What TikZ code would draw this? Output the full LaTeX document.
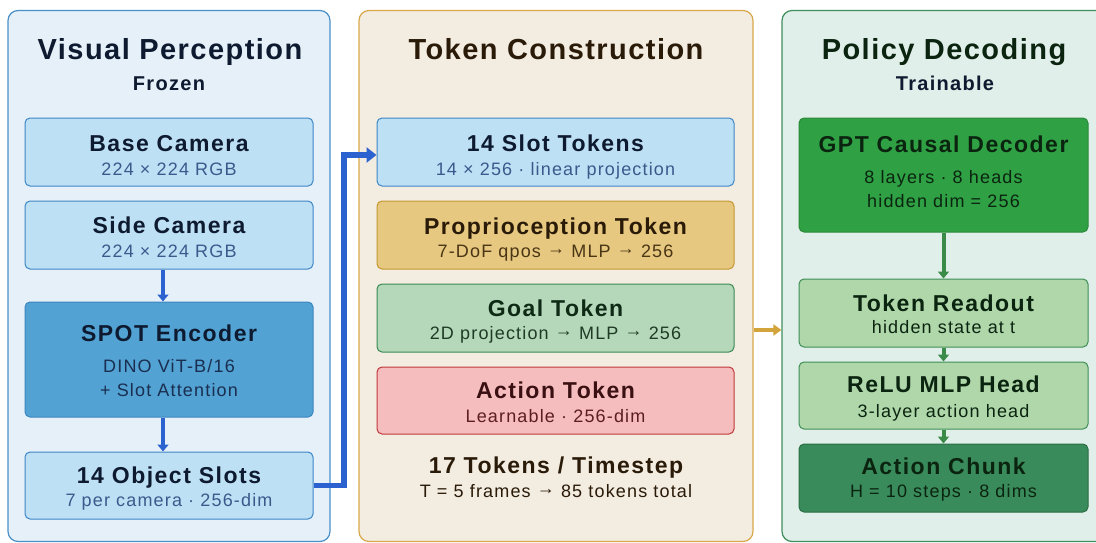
\documentclass[tikz,border=0pt]{standalone}
\usepackage{fontspec}
\setmainfont{Liberation Sans}
\newfontfamily\headfont[LetterSpace=5]{Liberation Sans}
\newfontfamily\labelfont[LetterSpace=6.5]{Liberation Sans}
\usetikzlibrary{arrows.meta}
% arrow glyph lifted to the middle of the lowercase letters
\newcommand\rarr{\raisebox{2.5pt}{→}}

% palette
\definecolor{inkNavy}{HTML}{0E1A2F}
\definecolor{inkSlate}{HTML}{3A5A8C}
\definecolor{inkSpot}{HTML}{1A2E50}
\definecolor{visFill}{HTML}{E5F0F9}
\definecolor{visLine}{HTML}{4A90C8}
\definecolor{camFill}{HTML}{BEE0F4}
\definecolor{camLine}{HTML}{3D86C6}
\definecolor{spotFill}{HTML}{52A2D3}
\definecolor{spotLine}{HTML}{3A85C0}
\definecolor{tokFill}{HTML}{F3ECE1}
\definecolor{tokLine}{HTML}{D8A84A}
\definecolor{propFill}{HTML}{E6C880}
\definecolor{propLine}{HTML}{C4982F}
\definecolor{inkBrown}{HTML}{2A1A08}
\definecolor{inkBrownSub}{HTML}{4A3515}
\definecolor{goalFill}{HTML}{B5D8BA}
\definecolor{goalLine}{HTML}{3A8A52}
\definecolor{inkGoal}{HTML}{0E2A15}
\definecolor{inkGoalSub}{HTML}{1F3B25}
\definecolor{actFill}{HTML}{F5BDBD}
\definecolor{actLine}{HTML}{C0393B}
\definecolor{inkAct}{HTML}{3A1012}
\definecolor{inkActSub}{HTML}{5C1E20}
\definecolor{polFill}{HTML}{E1EFEA}
\definecolor{polLine}{HTML}{3E8E5E}
\definecolor{gptFill}{HTML}{2FA043}
\definecolor{gptLine}{HTML}{2A8A3A}
\definecolor{headFill}{HTML}{AFD7AA}
\definecolor{headLine}{HTML}{3E8E55}
\definecolor{chunkFill}{HTML}{3A8B5B}
\definecolor{chunkLine}{HTML}{2A6E45}
\definecolor{inkGreen}{HTML}{0B2410}
\definecolor{linkBlue}{HTML}{2B62CF}
\definecolor{linkGreen}{HTML}{3A8A48}
\definecolor{linkGold}{HTML}{D4A43C}

\tikzset{
  panel/.style={draw, line width=1.2pt, rounded corners=10pt, inner sep=0pt},
  blk/.style={draw, line width=1pt, rounded corners=5pt, inner sep=0pt},
  ptitle/.style={font=\headfont\bfseries\fontsize{29}{31}\selectfont, anchor=base, inner sep=0pt},
  ptag/.style={font=\labelfont\bfseries\fontsize{20}{22}\selectfont, anchor=base, inner sep=0pt},
  bname/.style={font=\labelfont\bfseries\fontsize{23}{25}\selectfont, anchor=base, inner sep=0pt},
  bnote/.style={font=\labelfont\fontsize{18}{20}\selectfont, anchor=base, inner sep=0pt},
  bluearrow/.style={draw=linkBlue, line width=4pt, -{Triangle[width=11pt,length=7pt]}},
  greenarrow/.style={draw=linkGreen, line width=4pt, -{Triangle[width=11pt,length=7pt]}},
}

\begin{document}
\begin{tikzpicture}[x=1pt,y=-1pt]
\useasboundingbox (0,0) rectangle (1096,543);
\clip (0,0) rectangle (1096,543);

% ---- panels ----
\node[panel, fill=visFill, draw=visLine, minimum width=322pt, minimum height=531pt] (vis) at (169,276) {};
\node[panel, fill=tokFill, draw=tokLine, minimum width=394pt, minimum height=531pt] (tok) at (556,276) {};
\node[panel, fill=polFill, draw=polLine, minimum width=324pt, minimum height=531pt] (pol) at (944,276) {};

\node[ptitle, text=inkNavy] (visT) at (170,60) {Visual Perception};
\node[ptag, text=inkNavy] (visS) at (169,91) {Frozen};
\node[ptitle, text=inkBrown] (tokT) at (556,60) {Token Construction};
\node[ptitle, text=inkGreen] (polT) at (944,60) {Policy Decoding};
\node[ptag, text=inkNavy] (polS) at (945,91) {Trainable};

% ---- visual perception column ----
\node[blk, fill=camFill, draw=camLine, minimum width=288pt, minimum height=68pt] (base) at (169,152) {};
\node[bname, text=inkNavy] at (169,151) {Base Camera};
\node[bnote, text=inkSlate] at (169,175) {224 × 224 RGB};

\node[blk, fill=camFill, draw=camLine, minimum width=288pt, minimum height=68pt] (side) at (169,235) {};
\node[bname, text=inkNavy] at (169,233) {Side Camera};
\node[bnote, text=inkSlate] at (169,257) {224 × 224 RGB};

\node[blk, fill=spotFill, draw=spotLine, minimum width=288pt, minimum height=115pt] (spot) at (169,359.5) {};
\node[bname, text=inkNavy] at (169,341) {SPOT Encoder};
\node[bnote, text=inkSpot] at (169,372) {DINO ViT-B/16};
\node[bnote, text=inkSpot] at (169,396) {+ Slot Attention};

\node[blk, fill=camFill, draw=camLine, minimum width=288pt, minimum height=67pt] (slots) at (169,485.5) {};
\node[bname, text=inkNavy] at (169,483) {14 Object Slots};
\node[bnote, text=inkSlate] at (169,506) {7 per camera · 256-dim};

% ---- token construction column ----
\node[blk, fill=camFill, draw=camLine, minimum width=357pt, minimum height=68pt] (slottok) at (555.5,152) {};
\node[bname, text=inkNavy] at (555.5,151) {14 Slot Tokens};
\node[bnote, text=inkSlate] at (555.5,175) {14 × 256 · linear projection};

\node[blk, fill=propFill, draw=propLine, minimum width=357pt, minimum height=68pt] (prop) at (555.5,235) {};
\node[bname, text=inkBrown] at (555.5,234) {Proprioception Token};
\node[bnote, text=inkBrownSub] at (555.5,257) {7-DoF qpos \rarr{} MLP \rarr{} 256};

\node[blk, fill=goalFill, draw=goalLine, minimum width=357pt, minimum height=68pt] (goal) at (555.5,318) {};
\node[bname, text=inkGoal] at (555.5,316) {Goal Token};
\node[bnote, text=inkGoalSub] at (555.5,339) {2D projection \rarr{} MLP \rarr{} 256};

\node[blk, fill=actFill, draw=actLine, minimum width=357pt, minimum height=67pt] (acttok) at (555.5,400.5) {};
\node[bname, text=inkAct] at (555.5,398) {Action Token};
\node[bnote, text=inkActSub] at (555.5,422) {Learnable · 256-dim};

\node[bname, text=inkBrown] (count) at (556,473) {17 Tokens / Timestep};
\node[bnote, text=inkBrown] (frames) at (556,497) {T = 5 frames \rarr{} 85 tokens total};

% ---- policy decoding column ----
\node[blk, fill=gptFill, draw=gptLine, minimum width=289pt, minimum height=114pt] (gpt) at (943.5,175) {};
\node[bname, text=inkGreen] at (943.5,153) {GPT Causal Decoder};
\node[bnote, text=inkGreen] at (943.5,183) {8 layers · 8 heads};
\node[bnote, text=inkGreen] at (943.5,207) {hidden dim = 256};

\node[blk, fill=headFill, draw=headLine, minimum width=289pt, minimum height=68pt] (readout) at (943.5,313) {};
\node[bname, text=inkGreen] at (943.5,311) {Token Readout};
\node[bnote, text=inkGreen] at (943.5,333) {hidden state at t};

\node[blk, fill=headFill, draw=headLine, minimum width=289pt, minimum height=67pt] (relu) at (943.5,395.5) {};
\node[bname, text=inkGreen] at (943.5,392) {ReLU MLP Head};
\node[bnote, text=inkGreen] at (943.5,417) {3-layer action head};

\node[blk, fill=chunkFill, draw=chunkLine, minimum width=289pt, minimum height=68pt] (chunk) at (943.5,478) {};
\node[bname, text=inkGreen] at (943.5,474) {Action Chunk};
\node[bnote, text=inkGreen] at (943.5,497) {H = 10 steps · 8 dims};

% ---- connectors ----
\draw[bluearrow] ([xshift=-6pt]side.south) -- ([xshift=-6pt]spot.north);
\draw[bluearrow] ([xshift=-6pt]spot.south) -- ([xshift=-6pt]slots.north);
\draw[draw=linkBlue, line width=5.5pt, -{Triangle[width=15pt,length=10pt]}]
  (slots.east) -| (344,155) -- ([yshift=-3pt]slottok.west);
\draw[greenarrow] (gpt.south) -- (readout.north);
\draw[greenarrow] (readout.south) -- (relu.north);
\draw[greenarrow] (relu.south) -- (chunk.north);
\draw[draw=linkGold, line width=4pt, -{Triangle[width=11pt,length=8pt]}]
  ([yshift=-54pt]tok.east) -- ([yshift=-54pt]pol.west);
\end{tikzpicture}
\end{document}
